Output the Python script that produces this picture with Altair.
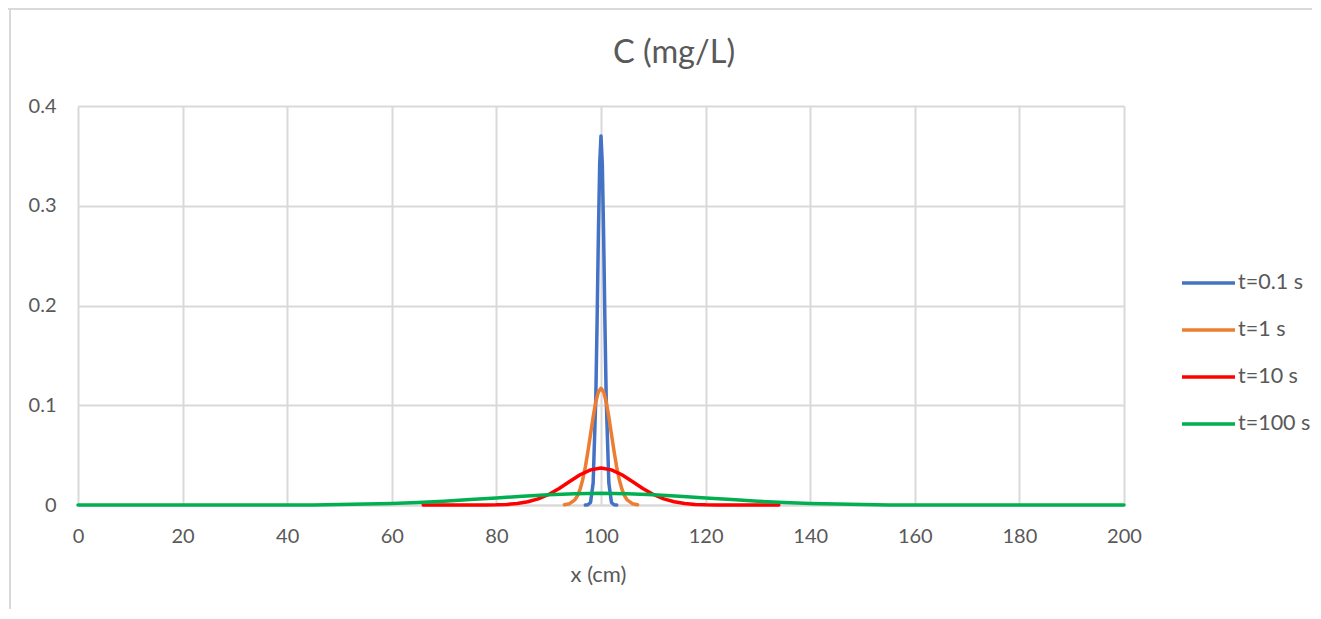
import altair as alt
import pandas as pd

# ---------------- data ----------------
series_names = ["t=0.1 s", "t=1 s", "t=10 s", "t=100 s"]
series_colors = ["#4472C4", "#ED7D31", "#FF0000", "#00B050"]

x_t01 = [97, 97.5, 98, 98.5, 99, 99.25, 99.5, 99.75, 100, 100.25, 100.5, 100.75, 101, 101.5, 102, 102.5, 103]
c_t01 = [0.0000, 0.0002, 0.0025, 0.0220, 0.1060, 0.1830, 0.2710, 0.3420, 0.3700,
         0.3420, 0.2710, 0.1830, 0.1060, 0.0220, 0.0025, 0.0002, 0.0000]

x_t1 = [93, 94, 95, 95.5, 96, 96.5, 97, 97.5, 98, 98.5, 99, 99.5, 100,
        100.5, 101, 101.5, 102, 102.5, 103, 103.5, 104, 104.5, 105, 106, 107]
c_t1 = [0.0003, 0.0013, 0.0051, 0.0093, 0.0158, 0.0253, 0.0380, 0.0536, 0.0710, 0.0883, 0.1033, 0.1134, 0.1170,
        0.1134, 0.1033, 0.0883, 0.0710, 0.0536, 0.0380, 0.0253, 0.0158, 0.0093, 0.0051, 0.0013, 0.0003]

x_t10 = [66, 68, 70, 72, 74, 76, 78, 80, 82, 84, 86, 88, 90, 92, 94, 96, 98, 100,
         102, 104, 106, 108, 110, 112, 114, 116, 118, 120, 122, 124, 126, 128, 130, 132, 134]
c_t10 = [0.0000, 0.0000, 0.0000, 0.0000, 0.0000, 0.0000, 0.0001, 0.0002, 0.0006, 0.0015, 0.0032,
         0.0061, 0.0106, 0.0166, 0.0236, 0.0303, 0.0352, 0.0370,
         0.0352, 0.0303, 0.0236, 0.0166, 0.0106, 0.0061, 0.0032, 0.0015, 0.0006, 0.0002, 0.0001,
         0.0000, 0.0000, 0.0000, 0.0000, 0.0000, 0.0000]

x_t100 = [0, 5, 10, 15, 20, 25, 30, 35, 40, 45, 50, 55, 60, 65, 70, 75, 80, 85, 90, 95, 100,
          105, 110, 115, 120, 125, 130, 135, 140, 145, 150, 155, 160, 165, 170, 175, 180, 185, 190, 195, 200]
c_t100 = [0.0000, 0.0000, 0.0000, 0.0000, 0.0000, 0.0000, 0.0000, 0.0000, 0.0001, 0.0001, 0.0005,
          0.0009, 0.0016, 0.0025, 0.0038, 0.0054, 0.0071, 0.0088, 0.0103, 0.0113, 0.0117,
          0.0113, 0.0103, 0.0088, 0.0071, 0.0054, 0.0038, 0.0025, 0.0016, 0.0009, 0.0005,
          0.0001, 0.0001, 0.0000, 0.0000, 0.0000, 0.0000, 0.0000, 0.0000, 0.0000, 0.0000]

x_ticks = [0, 20, 40, 60, 80, 100, 120, 140, 160, 180, 200]
y_ticks = [0, 0.1, 0.2, 0.3, 0.4]
chart_title = "C (mg/L)"
x_title = "x (cm)"

rows = []
for name, xs, cs in zip(series_names, [x_t01, x_t1, x_t10, x_t100], [c_t01, c_t1, c_t10, c_t100]):
    for xv, cv in zip(xs, cs):
        rows.append({"series": name, "x": xv, "c": cv})
df = pd.DataFrame(rows)

# ---------------- layout ----------------
W, H = 1046, 399
PAD = {"left": 70, "top": 98, "right": 188, "bottom": 104}
FONT = "Lato"
TXT = "#595959"
GRID = "#d9d9d9"

lines = alt.Chart(df).mark_line(strokeWidth=3.5, strokeJoin="round", strokeCap="round").encode(
    x=alt.X("x:Q", scale=alt.Scale(domain=[0, 200], nice=False, zero=False),
            axis=alt.Axis(values=x_ticks, title=x_title, grid=True, gridColor=GRID, gridWidth=2,
                          domain=True, domainColor=GRID, domainWidth=2, labelFlush=False,
                          ticks=False, tickSize=0, labelPadding=37, labelBaseline="alphabetic",
                          labelFont=FONT, labelFontSize=20, labelColor=TXT,
                          titleFont=FONT, titleFontSize=22, titleColor=TXT, titleFontWeight="normal",
                          titleX=520, titleY=76, titleAlign="center", titleBaseline="alphabetic")),
    y=alt.Y("c:Q", scale=alt.Scale(domain=[0, 0.4], nice=False),
            axis=alt.Axis(values=y_ticks, title=None, format="~g", grid=True, gridColor=GRID, gridWidth=2,
                          domain=False, ticks=False, tickSize=0, labelPadding=22, labelBaseline="middle",
                          labelFont=FONT, labelFontSize=20, labelColor=TXT)),
    color=alt.Color("series:N", scale=alt.Scale(domain=series_names, range=series_colors),
                    legend=alt.Legend(title=None, orient="none", legendX=1102, legendY=148.5,
                                      symbolType="stroke", symbolSize=2809, symbolStrokeWidth=3.5,
                                      labelFont=FONT, labelFontSize=21.5, labelColor=TXT, labelOffset=1,
                                      rowPadding=8, padding=0)),
)

# outer chart-area frame: only its top and left edges fall inside the picture
right_edge = W + PAD["right"]
bottom_edge = H + PAD["bottom"]
one = pd.DataFrame({"k": [0]})
frame_top = alt.Chart(one).mark_rect(fill=GRID, strokeWidth=0).encode(
    x=alt.value(-70), x2=alt.value(right_edge), y=alt.value(-98), y2=alt.value(-96))
frame_left = alt.Chart(one).mark_rect(fill=GRID, strokeWidth=0).encode(
    x=alt.value(-69), x2=alt.value(-67), y=alt.value(-98), y2=alt.value(bottom_edge))

title = alt.Chart(pd.DataFrame({"t": [chart_title]})).mark_text(
    font=FONT, fontSize=32.5, color=TXT, align="center", baseline="alphabetic").encode(
    text="t:N", x=alt.value(596), y=alt.value(-43))

chart = alt.layer(frame_top, frame_left, lines, title).properties(
    width=W, height=H,
    padding=PAD,
    autosize=alt.AutoSizeParams(type="none"),
).configure_view(stroke=None).configure(background="white")

chart.save("out.html", embed_options={"renderer": "svg", "actions": False})
